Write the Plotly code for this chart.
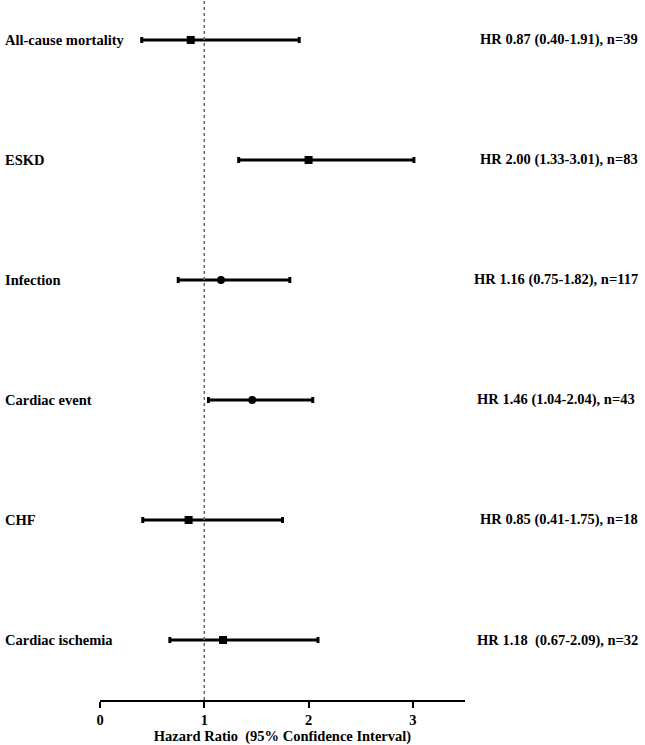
import plotly.graph_objects as go

# outcomes, top to bottom
outcomes = ["All-cause mortality", "ESKD", "Infection", "Cardiac event", "CHF", "Cardiac ischemia"]
hr = [0.87, 2.00, 1.16, 1.46, 0.85, 1.18]
ci_low = [0.40, 1.33, 0.75, 1.04, 0.41, 0.67]
ci_high = [1.91, 3.01, 1.82, 2.04, 1.75, 2.09]
n_obs = [39, 83, 117, 43, 18, 32]
symbols = ["square", "square", "circle", "circle", "square", "square"]
right_text = [
    "HR 0.87 (0.40-1.91), n=39",
    "HR 2.00 (1.33-3.01), n=83",
    "HR 1.16 (0.75-1.82), n=117",
    "HR 1.46 (1.04-2.04), n=43\u00a0",
    "HR 0.85 (0.41-1.75), n=18",
    "HR 1.18 \u00a0(0.67-2.09), n=32",
]

ypos = list(range(len(outcomes) - 1, -1, -1))
font = dict(family="Liberation Serif", size=14.5, color="black")

fig = go.Figure()
fig.add_trace(go.Scatter(
    x=hr, y=ypos, mode="markers",
    marker=dict(symbol=symbols, size=8, color="black"),
    error_x=dict(type="data", symmetric=False,
                 array=[h - hr[i] for i, h in enumerate(ci_high)],
                 arrayminus=[hr[i] - l for i, l in enumerate(ci_low)],
                 color="black", thickness=3, width=3),
    showlegend=False,
))

# reference line at HR = 1
fig.add_shape(type="line", xref="x", yref="paper", x0=1, x1=1, y0=0, y1=1,
              line=dict(color="#666666", width=1.5, dash="dot"))

for i, name in enumerate(outcomes):
    fig.add_annotation(x=-0.266, xref="paper", y=ypos[i], yref="y", text="<b>%s</b>" % name,
                       showarrow=False, xanchor="left", font=font)
    fig.add_annotation(x=1.479, xref="paper", y=ypos[i], yref="y", text="<b>%s</b>" % right_text[i],
                       showarrow=False, xanchor="right", font=font)

fig.update_layout(
    width=645, height=745,
    margin=dict(l=100, r=180, t=0, b=45),
    plot_bgcolor="white", paper_bgcolor="white",
    font=font,
    xaxis=dict(range=[0, 3.5], tickvals=[0, 1, 2, 3], ticktext=["<b>0</b>", "<b>1</b>", "<b>2</b>", "<b>3</b>"],
               showline=True, linecolor="black", linewidth=2, ticks="outside", ticklen=6,
               tickwidth=2, tickcolor="black", showgrid=False, zeroline=False,
               tickfont=font,
               title=dict(text="<b>Hazard Ratio \u00a0(95% Confidence Interval)</b>", font=font, standoff=2)),
    yaxis=dict(range=[-0.5, 5.333], visible=False, showgrid=False, zeroline=False),
)

# the page body has a default 8px margin; drop it so the figure sits at the corner
fig.write_html("out.html", config={"displayModeBar": False},
               post_script="document.body.style.margin='0';")
